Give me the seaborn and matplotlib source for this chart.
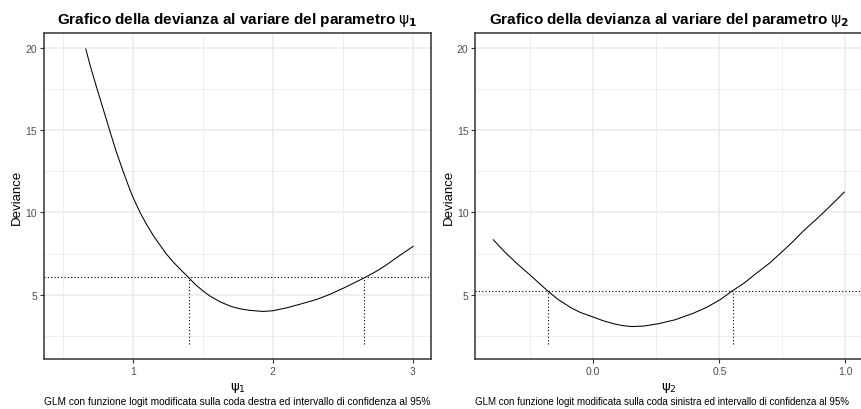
import numpy as np
import pandas as pd
import matplotlib
matplotlib.use("Agg")
import matplotlib.pyplot as plt
import seaborn as sns

# ---- data ----
psi1 = [0.664, 0.695, 0.731, 0.754, 0.790, 0.838, 0.880, 0.931, 0.970, 1.000,
        1.052, 1.100, 1.150, 1.200, 1.238, 1.290, 1.345, 1.397, 1.450, 1.504,
        1.550, 1.624, 1.700, 1.766, 1.830, 1.897, 1.933, 2.000, 2.100, 2.200,
        2.314, 2.400, 2.504, 2.580, 2.660, 2.740, 2.814, 2.900, 3.004]
dev1 = [19.94, 18.95, 17.90, 17.25, 16.25, 14.90, 13.75, 12.50, 11.60, 10.95,
        10.00, 9.25, 8.55, 7.95, 7.50, 6.98, 6.50, 6.06, 5.60, 5.22,
        4.93, 4.57, 4.30, 4.15, 4.06, 4.01, 3.99, 4.03, 4.21, 4.44,
        4.72, 5.00, 5.40, 5.72, 6.06, 6.43, 6.83, 7.35, 7.95]
thr1 = 6.06
ci1 = [1.40, 2.655]

psi2 = [-0.397, -0.348, -0.300, -0.245, -0.179, -0.140, -0.086, -0.050,
        -0.006, 0.040, 0.086, 0.120, 0.152, 0.200, 0.258, 0.324, 0.397, 0.450,
        0.503, 0.549, 0.600, 0.648, 0.700, 0.748, 0.790, 0.833, 0.880, 0.926,
        0.996]
dev2 = [8.35, 7.55, 6.86, 6.12, 5.21, 4.72, 4.19, 3.92,
        3.68, 3.42, 3.22, 3.12, 3.07, 3.10, 3.24, 3.48, 3.88, 4.24,
        4.70, 5.21, 5.73, 6.32, 6.93, 7.60, 8.20, 8.87, 9.52, 10.18,
        11.24]
thr2 = 5.21
ci2 = [-0.18, 0.553]

titles = ["Grafico della devianza al variare del parametro $\\mathrm{\\psi}_\\mathbf{1}$",
          "Grafico della devianza al variare del parametro $\\mathrm{\\psi}_\\mathbf{2}$"]
xlabels = ["$\\mathrm{\\psi}_1$", "$\\mathrm{\\psi}_2$"]
captions = ["GLM con funzione logit modificata sulla coda destra ed intervallo di confidenza al 95%",
            "GLM con funzione logit modificata sulla coda sinistra ed intervallo di confidenza al 95%"]
caption_sizes = [7.3, 7.05]
xticks = [[1, 2, 3], [0.0, 0.5, 1.0]]
xticklabels = [["1", "2", "3"], ["0.0", "0.5", "1.0"]]
xminor = [[0.5, 1.5, 2.5], [-0.25, 0.25, 0.75]]
yticks = [5, 10, 15, 20]
yminor = [2.5, 7.5, 12.5, 17.5]
ylo = 2

sns.set_theme(style="white")
plt.rcParams['font.family'] = ['Liberation Sans', 'DejaVu Sans']
plt.rcParams['mathtext.fontset'] = 'dejavusans'

fig = plt.figure(figsize=(8.62, 4.10), dpi=100)
fig.patch.set_facecolor("white")
W, H = 862, 410
boxes = [(44, 34, 431, 360), (475.3, 34, 863, 360)]
xlims = [(0.366, 3.13), (-0.468, 1.07)]
ylim = (1.1, 20.9)

data = [(psi1, dev1, thr1, ci1), (psi2, dev2, thr2, ci2)]

for i, (x0, y0, x1, y1) in enumerate(boxes):
    ax = fig.add_axes([x0 / W, 1 - y1 / H, (x1 - x0) / W, (y1 - y0) / H])
    ax.set_facecolor("white")
    px, dv, thr, ci = data[i]
    df = pd.DataFrame({"param": px, "Deviance": dv})
    ax.set_xlim(*xlims[i])
    ax.set_ylim(*ylim)
    # grid
    for v in xminor[i]:
        ax.axvline(v, color="#EBEBEB", lw=0.55, zorder=0)
    for v in yminor:
        ax.axhline(v, color="#EBEBEB", lw=0.55, zorder=0)
    for v in xticks[i]:
        ax.axvline(v, color="#EBEBEB", lw=1.1, zorder=0)
    for v in yticks:
        ax.axhline(v, color="#EBEBEB", lw=1.1, zorder=0)
    sns.lineplot(data=df, x="param", y="Deviance", ax=ax, color="black", lw=0.75,
                 zorder=3)
    ax.axhline(thr, color="black", lw=0.8, ls=(0, (1, 2)), zorder=2)
    for c in ci:
        ax.plot([c, c], [ylo, thr], color="black", lw=0.8, ls=(0, (1, 2)), zorder=2)
    ax.set_xticks(xticks[i])
    ax.set_xticklabels(xticklabels[i])
    ax.set_yticks(yticks)
    ax.set_yticklabels([str(v) for v in yticks])
    ax.tick_params(axis="both", which="major", length=3, width=0.8, color="#333333",
                   labelsize=7.5, labelcolor="#4D4D4D", pad=2, bottom=True, left=True)
    for s in ax.spines.values():
        s.set_color("#333333")
        s.set_linewidth(1.1)
        s.set_visible(True)
    ax.set_xlabel(xlabels[i], fontsize=9.5, labelpad=3, color="black")
    ax.set_ylabel("Deviance", fontsize=9.5, labelpad=1.5, color="black")
    ax.set_title(titles[i], fontsize=11, fontweight="bold", pad=7, color="black")
    fig.text(x0 / W, 1 - 402 / H, captions[i], fontsize=caption_sizes[i],
             ha="left", va="center", color="black")

fig.savefig("out.png", dpi=100, facecolor="white")
